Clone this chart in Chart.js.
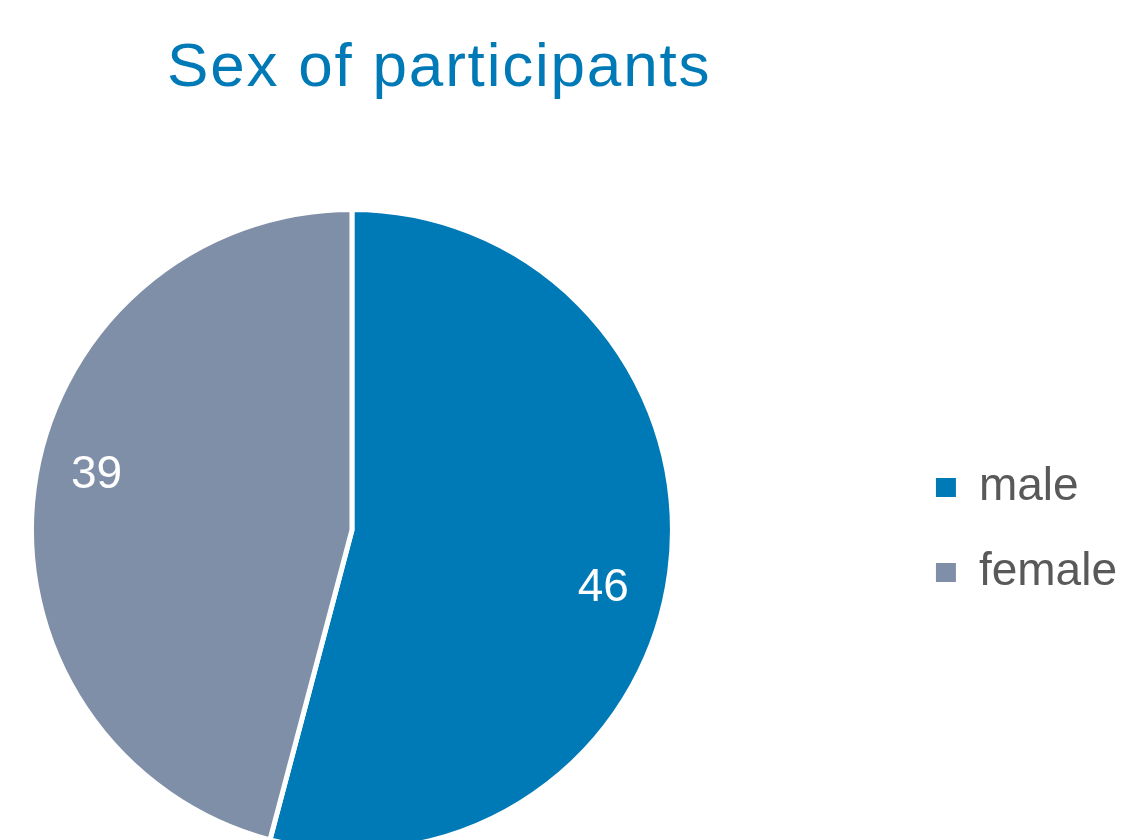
<!DOCTYPE html>
<html lang="en">
<head>
  <meta charset="UTF-8">
  <title>Sex of participants</title>
  <script src="https://cdn.jsdelivr.net/npm/chart.js"></script>
  <style>
    html, body { margin: 0; padding: 0; background: #fff; overflow: hidden; width: 1128px; height: 840px; }
    #wrap { position: relative; width: 1128px; height: 840px; overflow: hidden; }
    #pie { position: absolute; left: -193px; top: 0; }
    h1 {
      position: absolute; left: 167px; top: 34px; margin: 0;
      font: normal 62px/1 "Liberation Sans", Arial, sans-serif;
      letter-spacing: 1.8px; color: #007AB7; white-space: nowrap;
    }
  </style>
</head>
<body>
  <div id="wrap">
    <canvas id="pie" width="1321" height="865"></canvas>
    <h1>Sex of participants</h1>
  </div>

  <script>
    // data
    const categories = ['male', 'female'];
    const counts = [46, 39];
    const sliceColors = ['#007AB7', '#808FA8'];

    // value labels inside the slices
    const sliceLabels = {
      id: 'sliceLabels',
      afterDatasetsDraw(chart) {
        const ctx = chart.ctx;
        const meta = chart.getDatasetMeta(0);
        ctx.save();
        ctx.fillStyle = '#ffffff';
        ctx.font = '46px "Liberation Sans", Arial, sans-serif';
        ctx.textAlign = 'center';
        ctx.textBaseline = 'middle';
        meta.data.forEach((arc, i) => {
          const p = arc.getProps(['x', 'y', 'startAngle', 'endAngle', 'outerRadius'], true);
          const mid = (p.startAngle + p.endAngle) / 2 + 0.09;
          const r = p.outerRadius * 0.81;
          ctx.fillText(String(counts[i]), p.x + Math.cos(mid) * r - 2, p.y + Math.sin(mid) * r + 2);
        });
        ctx.restore();
      }
    };

    const defaultLabels = Chart.overrides.pie.plugins.legend.labels.generateLabels;

    new Chart(document.getElementById('pie'), {
      type: 'pie',
      data: {
        labels: categories,
        datasets: [{
          data: counts,
          backgroundColor: sliceColors,
          borderColor: '#ffffff',
          borderWidth: 5
        }]
      },
      options: {
        responsive: false,
        animation: false,
        layout: { padding: { left: 0, right: 1, top: 207, bottom: 12 } },
        plugins: {
          title: { display: false },
          legend: {
            position: 'right',
            labels: {
              color: '#595959',
              boxWidth: 20,
              boxHeight: 19,
              padding: 39,
              font: { family: '"Liberation Sans", Arial, sans-serif', size: 46 },
              generateLabels(chart) {
                // no white outline around the legend squares
                return defaultLabels(chart).map(item => Object.assign(item, { lineWidth: 0 }));
              }
            }
          },
          tooltip: { enabled: false }
        }
      },
      plugins: [sliceLabels]
    });
  </script>
</body>
</html>
